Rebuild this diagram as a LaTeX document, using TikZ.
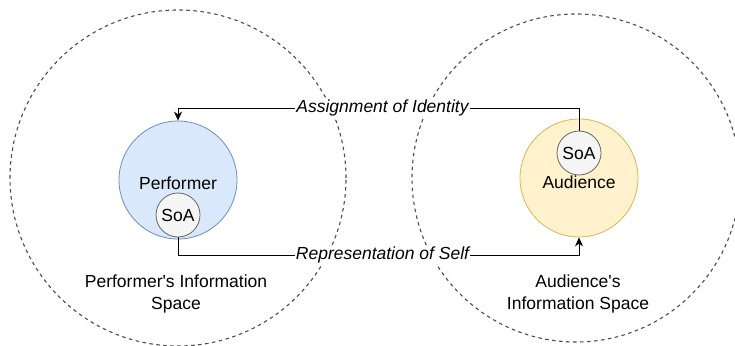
\documentclass[tikz,border=0pt]{standalone}
\usepackage{fontspec}
\setmainfont{Liberation Sans}[Ligatures=TeXOff]
\usetikzlibrary{arrows.meta}
\begin{document}
\begin{tikzpicture}[x=1pt,y=-1pt,
  every node/.style={font=\fontsize{17.5}{22}\selectfont},
  infospace/.style={circle, draw=black!70, dash pattern=on 3.5pt off 3.5pt, line width=1.1pt, inner sep=0pt},
  actor/.style={circle, minimum size=118pt, inner sep=0pt, line width=0.8pt},
  perfstyle/.style={actor, fill={rgb,255:red,218;green,232;blue,252}, draw={rgb,255:red,108;green,142;blue,191}},
  audstyle/.style={actor, fill={rgb,255:red,255;green,242;blue,204}, draw={rgb,255:red,214;green,182;blue,86}},
  soastyle/.style={circle, minimum size=44pt, inner sep=0pt, line width=0.8pt, fill={rgb,255:red,245;green,245;blue,245}, draw={rgb,255:red,102;green,102;blue,102}},
  conn/.style={draw=black, line width=0.9pt, -{Stealth[length=9pt,width=8pt]}},
  lbl/.style={fill=white, inner sep=1pt, font=\fontsize{17.5}{22}\selectfont\itshape},
  caption/.style={align=center}
]
\useasboundingbox (0,0) rectangle (735,345);

% information spaces
\node[infospace, minimum size=336pt] (pspace) at (178,178) {};
\node[infospace, minimum size=328pt] (aspace) at (576,178) {};

% actors
\node[perfstyle] (perf) at (178,180) {};
\node at (178,183) (perftext) {Performer};
\node[soastyle] (soaP) at (178,215) {SoA};

\node[audstyle] (aud) at (579,178) {};
\node at (579,182) (audtext) {Audience};
\node[soastyle] (soaA) at (579,153) {SoA};

% captions
\node[caption] (pcap) at (176,294) {Performer's Information\\Space};
\node[caption] (acap) at (578,294) {Audience's\\Information Space};

% connectors
\coordinate (a1) at (579,108);
\coordinate (a2) at (178,108);
\draw[conn] (soaA.north) -- (a1) -- node[lbl, xshift=4pt]{Assignment of Identity} (a2) -- (perf.north);

\coordinate (r1) at (178,255);
\coordinate (r2) at (579,255);
\draw[conn] (soaP.south) -- (r1) -- node[lbl, xshift=4pt]{Representation of Self} (r2) -- (aud.south);
\end{tikzpicture}
\end{document}
